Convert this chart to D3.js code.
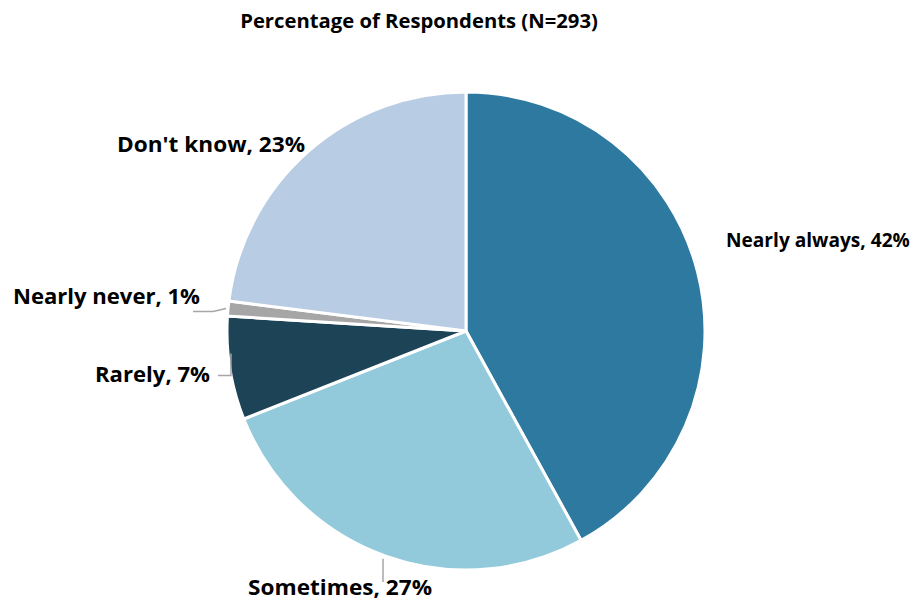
<!DOCTYPE html>
<html><head><meta charset="utf-8">
<script src="https://cdn.jsdelivr.net/npm/d3@7"></script>
<style>body{margin:0;background:#fff}svg{display:block}text{font-family:"Open Sans",sans-serif;font-weight:bold;fill:#000}</style>
</head><body>
<script>
const categories = ["Nearly always","Sometimes","Rarely","Nearly never","Don't know"];
const values = [42,27,7,1,23];
const colors = ["#2E79A0","#92CADB","#1D4357","#A6A6A6","#B8CCE4"];
const title = "Percentage of Respondents (N=293)";

const W=917,H=601,cx=466,cy=331,r=239;
const svg=d3.select("body").append("svg").attr("width",W).attr("height",H);
const t=svg.append("text").attr("x",419).attr("y",28).attr("text-anchor","middle").style("font-size","17px").text(title);
t.style("font-size",(17*358/t.node().getComputedTextLength())+"px");

const pie=d3.pie().sort(null).value(d=>d)(values);
const arc=d3.arc().innerRadius(0).outerRadius(r);
const g=svg.append("g").attr("transform",`translate(${cx},${cy})`);
g.selectAll("path").data(pie).join("path").attr("d",arc)
  .attr("fill",(d,i)=>colors[i]).attr("stroke","#fff").attr("stroke-width",3).attr("stroke-linejoin","round");

const layout=[
  {x:260,y:-84,anchor:"start",w:null},
  {x:-126,y:264,anchor:"middle",w:184},
  {x:-256,y:51,anchor:"end",w:115},
  {x:-266,y:-27,anchor:"end",w:187},
  {x:-161,y:-179,anchor:"end",w:188}
];
const lbl=g.selectAll("text.lbl").data(pie).join("text").attr("class","lbl")
  .attr("x",(d,i)=>layout[i].x).attr("y",(d,i)=>layout[i].y)
  .attr("text-anchor",(d,i)=>layout[i].anchor).style("font-size","19px")
  .text((d,i)=>`${categories[i]}, ${values[i]}%`);
const fs=19*184/lbl.nodes()[0].getComputedTextLength();
lbl.style("font-size",(d,i)=>(layout[i].w?fs*1.08:fs)+"px")
  .filter((d,i)=>layout[i].w)
  .attr("textLength",d=>layout[d.index].w).attr("lengthAdjust","spacingAndGlyphs");

const pt=(d,rr)=>{const a=(d.startAngle+d.endAngle)/2;return [rr*Math.sin(a),-rr*Math.cos(a)];};
const lines=[
  {i:1,pts:d=>{const p=pt(d,r);return [[-83,p[1]+3],[-83,251]];}},
  {i:2,pts:d=>{const p=pt(d,r);return [[p[0]+1,p[1]-15],[p[0]+1,p[1]-13+20],[p[0]-12,p[1]+7]];}},
  {i:3,pts:d=>{const p=pt(d,r);return [[p[0]-2,p[1]],[p[0]-15,p[1]+3],[p[0]-35,p[1]+3]];}}
];
g.selectAll("path.ld").data(lines).join("path").attr("class","ld")
  .attr("d",l=>d3.line()(l.pts(pie[l.i]))).attr("fill","none").attr("stroke","#A6A6A6").attr("stroke-width",1.5);
</script>
</body></html>
